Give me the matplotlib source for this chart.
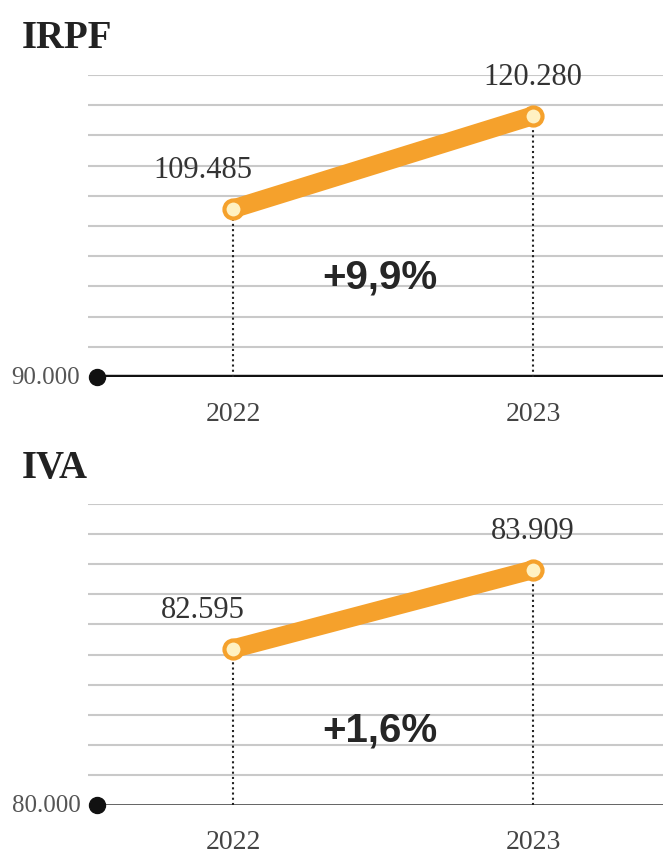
import matplotlib
matplotlib.use("Agg")
import matplotlib.pyplot as plt
import numpy as np

years = [2022, 2023]
irpf_values = [109485, 120280]
iva_values = [82595, 83909]
irpf_change = "+9,9%"
iva_change = "+1,6%"
irpf_range = [90000, 125000]
iva_range = [80000, 85000]

ORANGE = "#F5A12C"
SERIF = "Liberation Serif"
SANS = "Liberation Sans"
W, H = 663, 853


def fmt(v):
    return f"{v:,}".replace(",", ".")


def draw_panel(ax, title, title_y, values, yrange, change, change_y, base_lw, base_color):
    x0, x1 = 2021.517, 2023.433
    ax.set_xlim(x0, x1)
    ax.set_ylim(*yrange)
    ax.set_axis_off()

    # light horizontal rules
    for y in np.linspace(yrange[0], yrange[1], 11)[1:]:
        ax.axhline(y, color="#c9c9c9", lw=1.5, zorder=1)

    dot_x = x0 + 9 / 300
    ax.axhline(yrange[0], xmin=(dot_x - x0) / (x1 - x0), color=base_color, lw=base_lw, zorder=2)
    ax.plot(dot_x, yrange[0], "o", ms=11.5, color="#111111", zorder=5, clip_on=False)
    ax.annotate(fmt(yrange[0]), (dot_x, yrange[0]), xytext=(-12, 0), textcoords="offset points",
                ha="right", va="center", fontsize=18, family=SERIF, color="#555555")

    ax.vlines(years, yrange[0], values, colors="#222222", linestyles=(0, (1, 1.5)), lw=1.5, zorder=2)
    ax.plot(years, values, color=ORANGE, lw=13.5, solid_capstyle="round", zorder=3)
    ax.plot(years, values, "o", ms=13, mfc="#FFF1C2", mec=ORANGE, mew=3, zorder=4)

    for x, v, dx in zip(years, values, [-21.6, 0]):
        ax.annotate(fmt(v), (x, v), xytext=(dx, 28), textcoords="offset points",
                    ha="center", va="center", fontsize=22, family=SERIF, color="#333333")
        ax.annotate(str(x), (x, yrange[0]), xytext=(0, -26), textcoords="offset points",
                    ha="center", va="center", fontsize=20, family=SERIF, color="#444444",
                    annotation_clip=False)

    ax.text(0.508, change_y, change, transform=ax.transAxes, ha="center", va="center",
            fontsize=29, fontweight="bold", family=SANS, color="#262626")
    ax.figure.text(22 / W, 1 - title_y / H, title, ha="left", va="center",
                   fontsize=28, fontweight="bold", family=SERIF, color="#222222")


fig = plt.figure(figsize=(W / 100, H / 100), dpi=100)
left = 88 / W
ax1 = fig.add_axes([left, 1 - 378 / H, 1 - left, 302 / H])
ax2 = fig.add_axes([left, 1 - 806 / H, 1 - left, 301 / H])

draw_panel(ax1, "IRPF", 38, irpf_values, irpf_range, irpf_change, 0.334, 3.2, "#111111")
draw_panel(ax2, "IVA", 469, iva_values, iva_range, iva_change, 0.252, 2.0, "#555555")

fig.savefig("out.png", dpi=100)
